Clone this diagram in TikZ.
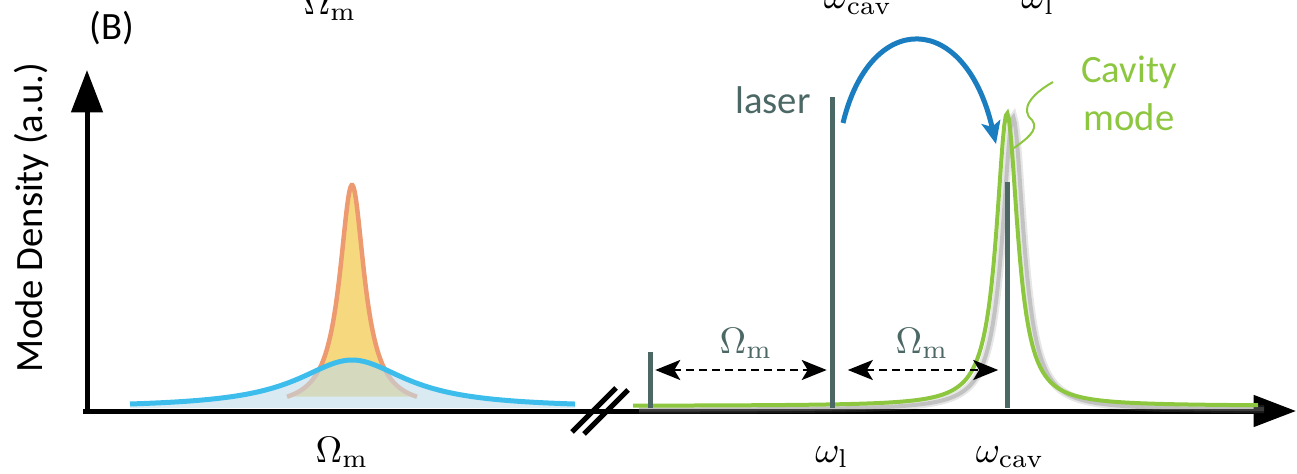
\documentclass[tikz,border=0pt]{standalone}
\usepackage{amsmath}
\usepackage{fontspec}
\setsansfont{Carlito}
\usepackage{tikz}
\usepackage{xcolor}
\usetikzlibrary{arrows.meta}

\definecolor{ardosia}{HTML}{4B6864}
\definecolor{verde}{HTML}{8DC63F}
\definecolor{ciano}{HTML}{3DBDEB}
\definecolor{azulclaro}{HTML}{BFDCEB}
\definecolor{laranja}{HTML}{EE9A70}
\definecolor{amarelo}{HTML}{F6D97F}
\definecolor{azularco}{HTML}{1A7DC0}

\begin{document}
\begin{tikzpicture}[x=0.02cm,y=-0.02cm,
  eixo/.style={line width=0.1cm,-{Triangle[length=0.85cm,width=0.62cm]}},
  barra/.style={ardosia,line width=0.1cm},
  distancia/.style={line width=0.05cm,dash pattern=on 0.16cm off 0.1cm,
    {Stealth[length=0.5cm,width=0.4cm,inset=0.12cm]}-{Stealth[length=0.5cm,width=0.4cm,inset=0.12cm]}},
  rotulo/.style={scale=2.1,inner sep=0pt},
  texto/.style={font=\sffamily\fontsize{22}{27}\selectfont,inner sep=0pt}]
\useasboundingbox (0,0) rectangle (1297,473);

% Eixos
\draw[eixo] (87,411) -- (87,70);
\draw[eixo] (83,411) -- (1296,411);
\draw[line width=0.1cm] (572,432) -- (616,388) (584,434) -- (628,390);
\node[texto,rotate=90,anchor=base] (ylab) at (42,218) {Mode Density (a.u.)};
\node[texto,anchor=base] (painel) at (112,40) {(B)};

% Modos mecanicos
\fill[amarelo] plot[domain=287:417,samples=150] (\x,{408-223/(1+((\x-352)/15)^2)}) -- cycle;
\draw[laranja,line width=0.09cm] plot[domain=287:417,samples=150] (\x,{408-223/(1+((\x-352)/15)^2)});
\fill[azulclaro,opacity=0.6] (130,408) -- plot[domain=130:575,samples=150] (\x,{408-48/(1+((\x-352)/67)^2)}) -- (575,408) -- cycle;
\draw[ciano,line width=0.1cm] plot[domain=130:575,samples=150] (\x,{408-48/(1+((\x-352)/67)^2)});

% Modo da cavidade
\draw[gray,opacity=0.2,line width=0.16cm,shift={(6,4)}] plot[domain=633:1258,samples=400] (\x,{406-293/(1+((\x-1007)/13)^2)});
\draw[gray,opacity=0.35,line width=0.08cm,shift={(6,4)}] plot[domain=633:1258,samples=400] (\x,{406-293/(1+((\x-1007)/13)^2)});
\draw[verde,line width=0.08cm] plot[domain=633:1258,samples=400] (\x,{406-293/(1+((\x-1007)/13)^2)});

% Linhas: lateral, laser e cavidade
\draw[barra] (650,408) -- (650,352);
\draw[barra] (832,408) -- (832,97);
\draw[barra] (1007,408) -- (1007,182);
\coordinate (bandaL) at (650,370);
\coordinate (laserL) at (832,370);
\coordinate (cavL) at (1007,370);
\draw[distancia,shorten <=3pt,shorten >=3pt] (bandaL) -- (laserL);
\draw[distancia,shorten <=9pt,shorten >=5pt] (laserL) -- (cavL);
\node[rotulo,ardosia,anchor=base] (omA) at (746,353) {$\Omega_\mathrm{m}$};
\node[rotulo,ardosia,anchor=base] (omB) at (922,353) {$\Omega_\mathrm{m}$};
\node[texto,ardosia,anchor=base] (lasertxt) at (773,113) {laser};

% Seta azul e legenda
\coordinate (saida) at (843,123);
\coordinate (pico) at (996,144);
\draw[azularco,line width=0.1cm,-{Stealth[length=0.45cm,width=0.38cm,inset=0.1cm]}] (saida) .. controls (870,10) and (965,10) .. (pico);
\node[texto,verde,align=center,anchor=north] (cavtxt) at (1129,56) {Cavity\\mode};
\coordinate (fio) at (1053,82);
\coordinate (topo) at (1014,148);
\draw[verde,line width=0.04cm] (fio) .. controls (1030,95) and (1020,110) .. (1032,120) .. controls (1040,130) and (1025,140) .. (topo);

% Frequencias
\node[rotulo,anchor=base] (omBaixo) at (342,462) {$\Omega_\mathrm{m}$};
\node[rotulo,anchor=base] (wl) at (832,462) {$\omega_\mathrm{l}$};
\node[rotulo,anchor=base] (wcav) at (1010,462) {$\omega_\mathrm{cav}$};
\node[rotulo,anchor=base] (omTopo) at (330,15) {$\Omega_\mathrm{m}$};
\node[rotulo,anchor=base] (wcavTopo) at (858,9) {$\omega_\mathrm{cav}$};
\node[rotulo,anchor=base] (wlTopo) at (1038,9) {$\omega_\mathrm{l}$};
\end{tikzpicture}
\end{document}
